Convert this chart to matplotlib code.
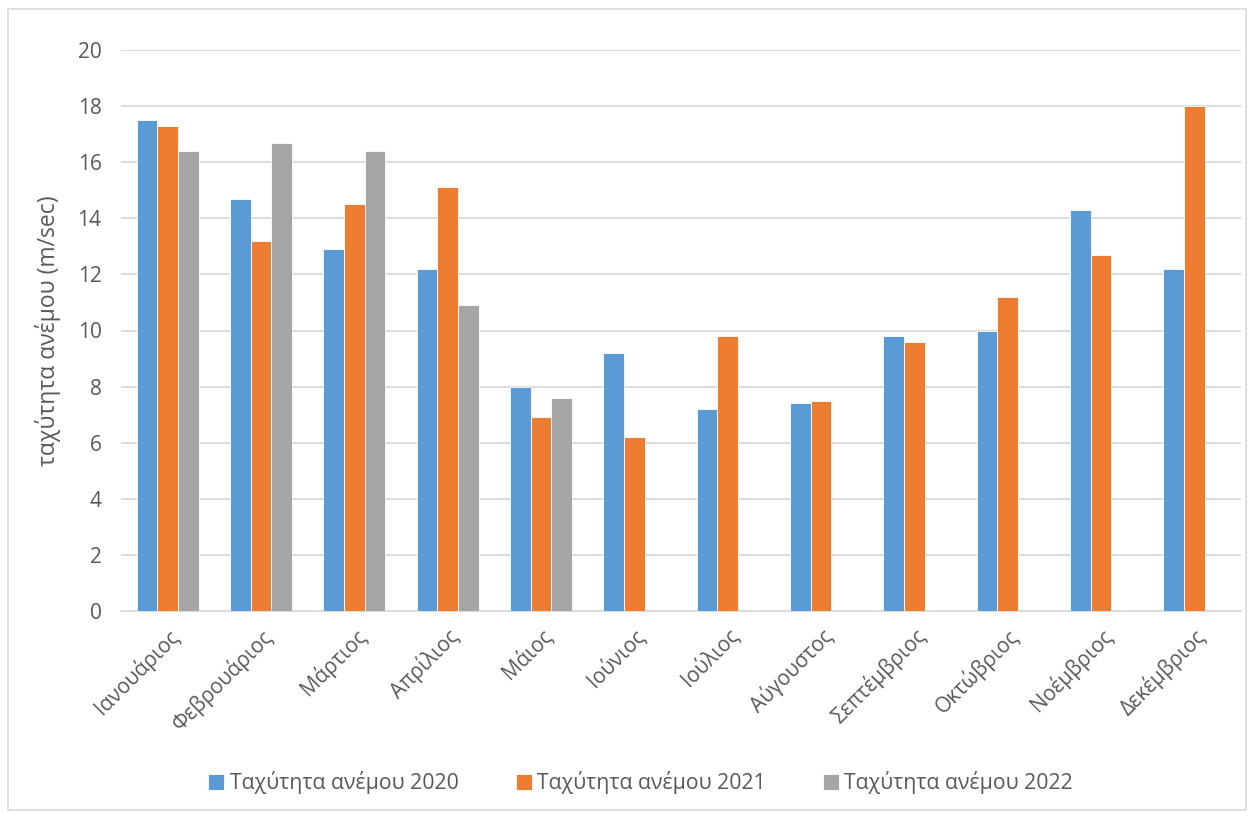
import matplotlib.pyplot as plt
import numpy as np
from matplotlib.patches import Rectangle

plt.rcParams['font.family'] = ['Open Sans', 'DejaVu Sans']

# Months (Greek) and monthly wind speed per year
months = ['Ιανουάριος', 'Φεβρουάριος', 'Μάρτιος', 'Απρίλιος', 'Μάιος', 'Ιούνιος',
          'Ιούλιος', 'Αύγουστος', 'Σεπτέμβριος', 'Οκτώβριος', 'Νοέμβριος', 'Δεκέμβριος']
speed_2020 = [17.5, 14.7, 12.9, 12.2, 8.0, 9.2, 7.2, 7.4, 9.8, 10.0, 14.3, 12.2]
speed_2021 = [17.3, 13.2, 14.5, 15.1, 6.9, 6.2, 9.8, 7.5, 9.6, 11.2, 12.7, 18.0]
speed_2022 = [16.4, 16.7, 16.4, 10.9, 7.6]
yticks = np.arange(0, 21, 2)

labels = ['Ταχύτητα ανέμου 2020', 'Ταχύτητα ανέμου 2021', 'Ταχύτητα ανέμου 2022']
colors = ['#5B9BD5', '#ED7D31', '#A5A5A5']
txt = '#595959'

fig = plt.figure(figsize=(12.54, 8.18), dpi=100)
ax = fig.add_axes([121/1254, 1 - 611/818, 1120/1254, 561/818])

x = np.arange(len(months))
w = 0.222
series = [speed_2020, speed_2021, speed_2022]
for i, (vals, c, lab) in enumerate(zip(series, colors, labels)):
    xi = x[:len(vals)] + (i - 1) * w
    ax.bar(xi, vals, w, color=c, label=lab, edgecolor='white', linewidth=0.6, zorder=3)

ax.set_xlim(-0.5, len(months) - 0.5)
ax.set_ylim(0, 20)
ax.set_yticks(yticks)
ax.yaxis.grid(True, color='#D9D9D9', linewidth=1.3, zorder=0)
for s in ['top', 'right', 'left']:
    ax.spines[s].set_visible(False)
ax.spines['bottom'].set_color('#D9D9D9')
ax.spines['bottom'].set_linewidth(1.3)
ax.tick_params(axis='both', length=0, colors=txt, labelsize=15)
ax.tick_params(axis='y', pad=14)
ax.set_xticks(x)
ax.set_xticklabels(months, rotation=45, ha='right', rotation_mode='anchor', fontsize=15)
ax.tick_params(axis='x', pad=10)
ax.set_ylabel('ταχύτητα ανέμου (m/sec)', fontsize=16.5, color=txt, labelpad=12)

leg = fig.legend(loc='center', bbox_to_anchor=(0.511, 1 - 783/818), ncol=3, frameon=False,
                 fontsize=15.3, handlelength=0.75, handleheight=0.75, handletextpad=0.25,
                 columnspacing=2.7)
for t in leg.get_texts():
    t.set_color(txt)

fig.patches.append(Rectangle((8/1254, 1 - 810/818), 1238/1254, 801/818,
                             transform=fig.transFigure, fill=False,
                             edgecolor='#D9D9D9', linewidth=1.2))

fig.savefig('out.png', dpi=100)
